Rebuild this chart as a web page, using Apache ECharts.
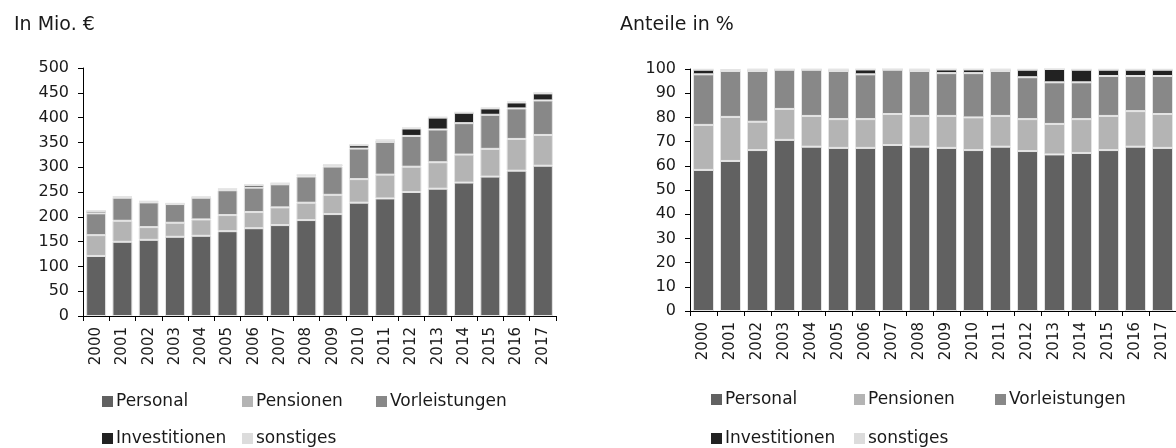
<!DOCTYPE html>
<html>
<head>
<meta charset="utf-8">
<script src="https://cdn.jsdelivr.net/npm/echarts@6/dist/echarts.min.js"></script>
<style>
    html, body { margin: 0; padding: 0; background: #fff; }
    #chart { width: 1176px; height: 448px; }
</style>
</head>
<body>
<div id="chart"></div>
<script>
var jahre = ['2000', '2001', '2002', '2003', '2004', '2005', '2006', '2007', '2008',
    '2009', '2010', '2011', '2012', '2013', '2014', '2015', '2016', '2017'];

// In Mio. €
var personal = [121, 149.6, 153.6, 159.7, 161.7, 171, 177, 183.3, 193.4, 205.5, 228.5, 237, 250, 256.7, 269, 281, 293, 303];
var pensionen = [42, 42.4, 25.6, 28.3, 33, 32.5, 32.6, 35.7, 35, 38.8, 47.5, 48, 51, 53.3, 56.5, 56, 64, 62];
var vorleistungen = [44, 46.5, 49.8, 37.7, 43.8, 50, 49.2, 46.5, 52.8, 57, 61.6, 66, 62, 66, 63.3, 68.7, 61.5, 69.6];
var investitionen = [4.5, 1.5, 1.5, 0.5, 1, 2, 5, 1.5, 2.5, 3, 6.7, 3, 15, 24, 21, 12.8, 12, 14.2];
var sonstiges = [1.5, 1.5, 1.5, 1.5, 1.5, 1.5, 1.5, 1.5, 1.5, 1.5, 2, 2, 2, 1.5, 1.5, 1.5, 2, 2];

// Anteile in %
var anteilPersonal = [58.3, 62.0, 66.5, 70.7, 67.9, 67.4, 67.4, 68.6, 67.9, 67.4, 66.5, 67.9, 66.1, 64.7, 65.3, 66.5, 67.9, 67.4];
var anteilPensionen = [18.6, 18.2, 11.7, 12.8, 12.7, 11.9, 11.9, 12.8, 12.7, 13.2, 13.5, 12.7, 13.2, 12.6, 14.0, 14.1, 14.7, 14.0];
var anteilVorleistungen = [20.9, 19.0, 21.0, 16.2, 19.1, 19.9, 18.5, 18.3, 18.6, 17.7, 18.3, 18.6, 17.3, 17.2, 15.2, 16.5, 14.5, 15.7];
var anteilInvestitionen = [1.9, 0.4, 0.6, 0.1, 0.1, 0.6, 2.0, 0.2, 0.6, 1.5, 1.5, 0.6, 3.1, 5.5, 5.2, 2.6, 2.6, 2.6];
var anteilSonstiges = [0.3, 0.4, 0.2, 0.2, 0.2, 0.2, 0.2, 0.1, 0.2, 0.2, 0.2, 0.2, 0.3, 0.0, 0.3, 0.3, 0.3, 0.3];

var namen = ['Personal', 'Pensionen', 'Vorleistungen', 'Investitionen', 'sonstiges'];
var farben = ['#616161', '#b4b4b4', '#888888', '#222222', '#dcdcdc'];
var schrift = 'DejaVu Sans';
var textFarbe = '#1a1a1a';

function xAchse(index) {
    return {
        type: 'category',
        gridIndex: index,
        data: jahre,
        axisLine: { lineStyle: { color: '#000', width: 1 } },
        axisTick: { show: true, length: 5, interval: 0, lineStyle: { color: '#000' } },
        axisLabel: {
            interval: 0,
            rotate: 90,
            margin: 11,
            color: textFarbe,
            fontFamily: schrift,
            fontSize: 15
        }
    };
}

function yAchse(index, max, step) {
    return {
        type: 'value',
        gridIndex: index,
        min: 0,
        max: max,
        interval: step,
        splitLine: { show: false },
        axisLine: { show: true, lineStyle: { color: '#000', width: 1 } },
        axisTick: { show: true, length: 5, lineStyle: { color: '#000' } },
        axisLabel: {
            margin: 14,
            color: textFarbe,
            fontFamily: schrift,
            fontSize: 16
        }
    };
}

function reihe(name, farbe, werte, index, gap) {
    return {
        name: name,
        type: 'bar',
        stack: 'stapel' + index,
        xAxisIndex: index,
        yAxisIndex: index,
        barCategoryGap: gap,
        data: werte,
        itemStyle: { color: farbe, borderColor: '#e4e4e4', borderWidth: 1 },
        emphasis: { disabled: true }
    };
}

function legende(name, left, top) {
    return {
        data: [name],
        left: left,
        top: top,
        padding: 0,
        icon: 'rect',
        itemWidth: 11,
        itemHeight: 11,
        selectedMode: false,
        itemStyle: { borderWidth: 0 },
        textStyle: { color: textFarbe, fontFamily: schrift, fontSize: 17, padding: [0, 0, 0, -2] }
    };
}

var myChart = echarts.init(document.getElementById('chart'));
var option = {
    animation: false,
    backgroundColor: '#fff',
    title: [
        { text: 'In Mio. €', left: 9, top: 11, textStyle: { color: textFarbe, fontFamily: schrift, fontSize: 19, fontWeight: 'normal' } },
        { text: 'Anteile in %', left: 615, top: 11, textStyle: { color: textFarbe, fontFamily: schrift, fontSize: 19, fontWeight: 'normal' } }
    ],
    grid: [
        { left: 83, top: 68, width: 473, height: 248 },
        { left: 690, top: 69, width: 493, height: 242 }
    ],
    legend: [
        legende('Personal', 102, 393),
        legende('Pensionen', 242, 393),
        legende('Vorleistungen', 376, 393),
        legende('Investitionen', 102, 430),
        legende('sonstiges', 242, 430),
        legende('Personal', 711, 391),
        legende('Pensionen', 854, 391),
        legende('Vorleistungen', 995, 391),
        legende('Investitionen', 711, 430),
        legende('sonstiges', 854, 430)
    ],
    xAxis: [xAchse(0), xAchse(1)],
    yAxis: [yAchse(0, 500, 50), yAchse(1, 100, 10)],
    series: [
        reihe(namen[0], farben[0], personal, 0, '24%'),
        reihe(namen[1], farben[1], pensionen, 0, '24%'),
        reihe(namen[2], farben[2], vorleistungen, 0, '24%'),
        reihe(namen[3], farben[3], investitionen, 0, '24%'),
        reihe(namen[4], farben[4], sonstiges, 0, '24%'),
        reihe(namen[0], farben[0], anteilPersonal, 1, '22%'),
        reihe(namen[1], farben[1], anteilPensionen, 1, '22%'),
        reihe(namen[2], farben[2], anteilVorleistungen, 1, '22%'),
        reihe(namen[3], farben[3], anteilInvestitionen, 1, '22%'),
        reihe(namen[4], farben[4], anteilSonstiges, 1, '22%')
    ]
};
myChart.setOption(option);
</script>
</body>
</html>
